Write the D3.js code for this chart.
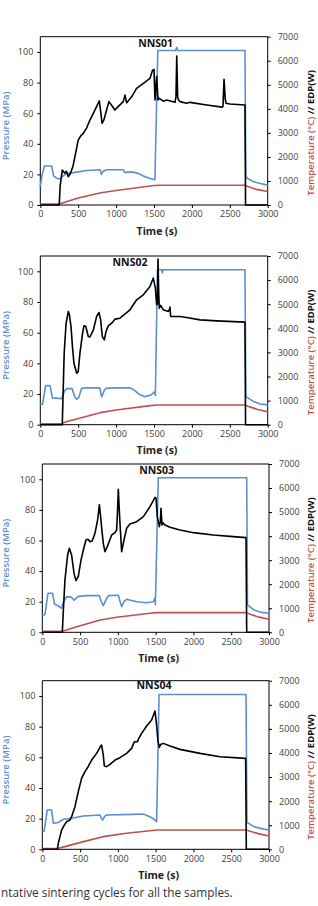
<!DOCTYPE html>
<html>
<head>
<meta charset="utf-8">
<script src="https://cdn.jsdelivr.net/npm/d3@7"></script>
<style>
  body { margin: 0; background: #fff; }
  svg { display: block; }
  text { font-family: "Open Sans", "DejaVu Sans", sans-serif; }
</style>
</head>
<body>
<div id="chart"></div>
<script>
// sample names
let samples = ['NNS01', 'NNS02', 'NNS03', 'NNS04']

// axis ticks
let timeTicks = [0, 500, 1000, 1500, 2000, 2500, 3000]
let pressureTicks = [0, 20, 40, 60, 80, 100]
let rightTicks = [0, 1000, 2000, 3000, 4000, 5000, 6000, 7000]

// pressure (MPa) vs time (s)
let pressure01 = [[0, 12], [25, 20], [55, 25.5], [150, 25.5], [175, 19], [215, 17.5], [260, 17], [300, 19], [350, 20.5], [480, 21.5], [610, 22.5], [790, 23], [805, 20], [830, 22], [875, 23], [1095, 23], [1120, 21], [1140, 21.5], [1227, 21.5], [1300, 20.5], [1360, 19], [1440, 17.5], [1512, 16.5], [1550, 101], [1785, 101], [1800, 103], [1812, 101], [2700, 101], [2712, 19], [2730, 17.5], [2800, 15.5], [2900, 14], [3000, 13]]
let pressure02 = [[0, 13.3], [30, 13.3], [70, 25.5], [128, 25.5], [160, 17.5], [280, 17], [320, 22], [350, 23.5], [420, 23.5], [455, 18], [480, 16.6], [510, 18], [545, 23.7], [600, 24], [785, 24], [800, 20], [812, 18.3], [840, 22], [867, 23.7], [1000, 24], [1183, 24], [1227, 23], [1315, 19.5], [1380, 18.3], [1460, 19.4], [1513, 21.6], [1518, 19], [1545, 101], [1600, 101], [1610, 99], [1620, 101], [2700, 101], [2712, 18.3], [2800, 15.5], [2900, 13.5], [3000, 12.9]]
let pressure03 = [[0, 11.3], [35, 11.5], [75, 25.5], [137, 25.5], [160, 18.5], [200, 17.5], [256, 15.7], [280, 20], [322, 23.3], [390, 22.8], [420, 21], [476, 23.5], [600, 24], [754, 24], [780, 20], [807, 17.4], [840, 21], [874, 24], [1006, 24.2], [1030, 20], [1050, 16.8], [1080, 20], [1116, 21.6], [1249, 20], [1381, 19.3], [1469, 20], [1491, 22.5], [1496, 18], [1535, 101], [2705, 101], [2715, 18], [2800, 14.6], [2900, 13], [3000, 12.4]]
let pressure04 = [[0, 11.5], [25, 11.8], [65, 25.6], [124, 25.6], [146, 17], [212, 17.5], [278, 19.6], [388, 20.2], [543, 21.7], [763, 22.4], [785, 20], [799, 19.1], [825, 21.5], [852, 22.4], [1204, 22.8], [1337, 23], [1425, 21.3], [1491, 19.1], [1513, 18], [1545, 101], [2696, 101], [2708, 17.6], [2800, 14.8], [2900, 13.5], [3000, 12.6]]

// temperature (°C) vs time (s)
let temp01 = [[0, 40], [255, 40], [300, 90], [500, 290], [800, 510], [1000, 600], [1250, 710], [1500, 810], [1600, 820], [2700, 820], [2750, 760], [2850, 650], [3000, 560]]
let temp02 = [[0, 40], [280, 40], [330, 110], [480, 240], [790, 500], [1000, 610], [1450, 790], [1540, 818], [2700, 818], [2760, 740], [2870, 630], [3000, 540]]
let temp03 = [[0, 40], [270, 40], [320, 100], [455, 235], [765, 513], [985, 624], [1425, 790], [1515, 818], [2705, 818], [2760, 740], [2870, 630], [3000, 540]]
let temp04 = [[0, 30], [190, 30], [250, 70], [545, 318], [805, 525], [1115, 664], [1515, 802], [2700, 802], [2760, 740], [2870, 640], [3000, 553]]

// EDP (W) vs time (s)
let edp01 = [[0, 0], [250, 0], [262, 800], [290, 1450], [325, 1320], [345, 1400], [370, 1180], [395, 1300], [430, 1600], [457, 2010], [500, 2700], [540, 2900], [567, 2980], [610, 3200], [655, 3534], [720, 3950], [778, 4330], [800, 3800], [815, 3400], [840, 3550], [870, 3900], [905, 4300], [940, 4150], [985, 3950], [1030, 4100], [1095, 4300], [1117, 4570], [1140, 4250], [1205, 4500], [1270, 4850], [1360, 5060], [1447, 5270], [1482, 5610], [1500, 5640], [1513, 4370], [1535, 5340], [1553, 4370], [1570, 4435], [1623, 4320], [1667, 4370], [1777, 4270], [1790, 4500], [1800, 6200], [1812, 4500], [1821, 4390], [1843, 4300], [1931, 4230], [1975, 4270], [2195, 4160], [2400, 4070], [2410, 4100], [2424, 5225], [2440, 4400], [2450, 4230], [2503, 4200], [2600, 4180], [2700, 4160], [2708, 0], [3000, 0]]
let edp02 = [[0, 0], [290, 0], [315, 2966], [340, 4200], [370, 4700], [385, 4550], [405, 4075], [425, 3200], [444, 2550], [480, 2134], [500, 2200], [523, 2966], [558, 3800], [576, 4100], [600, 4080], [633, 3660], [655, 3640], [700, 3935], [743, 4490], [774, 4657], [796, 4350], [818, 3660], [845, 3520], [867, 3867], [897, 4100], [941, 4213], [985, 4380], [1051, 4420], [1095, 4532], [1183, 4768], [1271, 5183], [1359, 5391], [1447, 5738], [1491, 6085], [1518, 5670], [1535, 4976], [1545, 5000], [1553, 6875], [1562, 5500], [1570, 4837], [1588, 4950], [1623, 4768], [1689, 4700], [1705, 4800], [1711, 4880], [1720, 4500], [1733, 4490], [1843, 4490], [1950, 4440], [2107, 4350], [2327, 4310], [2700, 4255], [2708, 0], [3000, 0]]
let edp03 = [[0, 0], [265, 0], [280, 1000], [300, 2176], [335, 3215], [357, 3490], [388, 3215], [420, 2450], [445, 2150], [476, 2315], [512, 3000], [543, 3420], [578, 3840], [605, 3870], [631, 3770], [660, 3800], [697, 4116], [732, 4670], [755, 5300], [772, 4810], [790, 4200], [807, 3700], [829, 3354], [860, 3560], [918, 4047], [962, 4144], [984, 4255], [995, 5000], [1006, 5946], [1017, 5200], [1028, 4532], [1050, 3354], [1081, 3840], [1116, 4324], [1160, 4500], [1249, 4600], [1337, 4810], [1425, 5225], [1491, 5613], [1505, 5580], [1522, 4810], [1549, 4394], [1562, 4600], [1571, 5156], [1584, 4463], [1600, 4550], [1624, 4463], [1690, 4366], [1822, 4255], [1999, 4144], [2263, 4047], [2528, 3978], [2696, 3936], [2705, 0], [3000, 0]]
let edp04 = [[0, 0], [199, 0], [215, 300], [234, 525], [256, 800], [290, 1000], [322, 1148], [366, 1217], [388, 1355], [432, 1770], [476, 2393], [520, 2946], [565, 3222], [610, 3450], [653, 3706], [719, 3983], [772, 4287], [785, 4330], [807, 3914], [821, 3457], [852, 3430], [896, 3527], [962, 3706], [1028, 3803], [1116, 3983], [1182, 4190], [1215, 4450], [1227, 4467], [1260, 4470], [1271, 4577], [1315, 4813], [1381, 5117], [1447, 5366], [1491, 5740], [1513, 5159], [1530, 4500], [1549, 4232], [1565, 4350], [1602, 4398], [1690, 4287], [1822, 4149], [2087, 3983], [2352, 3845], [2691, 3776], [2700, 0], [3000, 0]]

let pressures = [pressure01, pressure02, pressure03, pressure04]
let temps = [temp01, temp02, temp03, temp04]
let edps = [edp01, edp02, edp03, edp04]

// panel frames in page pixels
let frames = [
  { left: 40.3, right: 267.7, top: 36.7, bottom: 205, titleX: 155.7, titleY: 43 },
  { left: 40.3, right: 267.7, top: 256, bottom: 424.7, titleX: 130, titleY: 262.7 },
  { left: 42.3, right: 269, top: 464, bottom: 632.3, titleX: 156.7, titleY: 470 },
  { left: 42.3, right: 269, top: 680.7, bottom: 849.3, titleX: 154, titleY: 685.7 }
]

let blue = '#5b8fd2'
let red = '#c0504d'
let tickColor = '#404040'
let fmt = d3.format('d')

let svg = d3.select('#chart')
  .append('svg')
  .attr('width', 318)
  .attr('height', 906)

function drawPanel(i) {
  let f = frames[i]
  let x = d3.scaleLinear().domain([0, 3000]).range([f.left, f.right])
  let yL = d3.scaleLinear().domain([0, 110]).range([f.bottom, f.top])
  let yR = d3.scaleLinear().domain([0, 7000]).range([f.bottom, f.top])

  let g = svg.append('g')

  // top border of the frame
  g.append('line')
    .attr('x1', f.left).attr('x2', f.right)
    .attr('y1', f.top).attr('y2', f.top)
    .attr('stroke', '#000').attr('stroke-width', 1)

  let xAxis = g.append('g')
    .attr('transform', 'translate(0,' + f.bottom + ')')
    .call(d3.axisBottom(x).tickValues(timeTicks).tickFormat(fmt).tickSize(3).tickPadding(3))
  let leftAxis = g.append('g')
    .attr('transform', 'translate(' + f.left + ',0)')
    .call(d3.axisLeft(yL).tickValues(pressureTicks).tickFormat(fmt).tickSize(3).tickPadding(4))
  let rightAxis = g.append('g')
    .attr('transform', 'translate(' + f.right + ',0)')
    .call(d3.axisRight(yR).tickValues(rightTicks).tickFormat(fmt).tickSize(3).tickPadding(7))

  ;[xAxis, leftAxis, rightAxis].forEach(function (a) {
    a.select('.domain').attr('stroke', '#000').attr('stroke-width', 1)
    a.selectAll('.tick line').attr('stroke', '#000')
    a.selectAll('.tick text')
      .attr('fill', tickColor)
      .style('font-size', '9px')
      .style('font-family', '"Open Sans", sans-serif')
  })
  // straight axis lines without end caps
  xAxis.select('.domain').attr('d', 'M' + f.left + ',0H' + f.right)
  leftAxis.select('.domain').attr('d', 'M0,' + f.bottom + 'V' + f.top)
  rightAxis.select('.domain').attr('d', 'M0,' + f.bottom + 'V' + f.top)

  let lineP = d3.line().x(function (d) { return x(d[0]) }).y(function (d) { return yL(d[1]) })
  let lineR = d3.line().x(function (d) { return x(d[0]) }).y(function (d) { return yR(d[1]) })

  g.append('path').datum(pressures[i])
    .attr('d', lineP).attr('fill', 'none')
    .attr('stroke', blue).attr('stroke-width', 1.6).attr('stroke-linejoin', 'round')
  g.append('path').datum(temps[i])
    .attr('d', lineR).attr('fill', 'none')
    .attr('stroke', red).attr('stroke-width', 1.6).attr('stroke-linejoin', 'round')
  g.append('path').datum(edps[i])
    .attr('d', lineR).attr('fill', 'none')
    .attr('stroke', '#000').attr('stroke-width', 1.6).attr('stroke-linejoin', 'round')

  // sample title
  g.append('text')
    .attr('x', f.titleX).attr('y', f.titleY)
    .attr('text-anchor', 'middle').attr('dy', '0.35em')
    .style('font-size', '10.5px').style('font-weight', 700)
    .attr('fill', '#111')
    .text(samples[i])

  // x axis title
  g.append('text')
    .attr('x', (f.left + f.right) / 2 + 3).attr('y', f.bottom + 26)
    .attr('text-anchor', 'middle').attr('dy', '0.35em')
    .style('font-size', '10.5px').style('font-weight', 700)
    .attr('fill', '#222')
    .text('Time (s)')

  let midY = (f.top + f.bottom) / 2

  // left axis title
  g.append('text')
    .attr('transform', 'translate(5.5,' + (midY + 5) + ') rotate(-90)')
    .attr('text-anchor', 'middle').attr('dy', '0.35em')
    .style('font-size', '9.5px').style('font-weight', 600)
    .attr('fill', blue)
    .text('Pressure (MPa)')

  // right axis title, two colours
  let rt = g.append('text')
    .attr('transform', 'translate(311,' + (midY + 12) + ') rotate(-90)')
    .attr('text-anchor', 'middle').attr('dy', '0.35em')
    .style('font-size', '9.5px').style('font-weight', 600)
  rt.append('tspan').attr('fill', red).text('Temperature (°C) ')
  rt.append('tspan').attr('fill', '#111').style('font-weight', 700).text('// EDP(W)')
}

for (let i = 0; i < samples.length; i++) {
  drawPanel(i)
}

// caption fragment at the bottom
svg.append('text')
  .attr('x', 1).attr('y', 897)
  .style('font-size', '11.8px')
  .attr('fill', '#333')
  .text('ntative sintering cycles for all the samples.')
</script>
</body>
</html>
